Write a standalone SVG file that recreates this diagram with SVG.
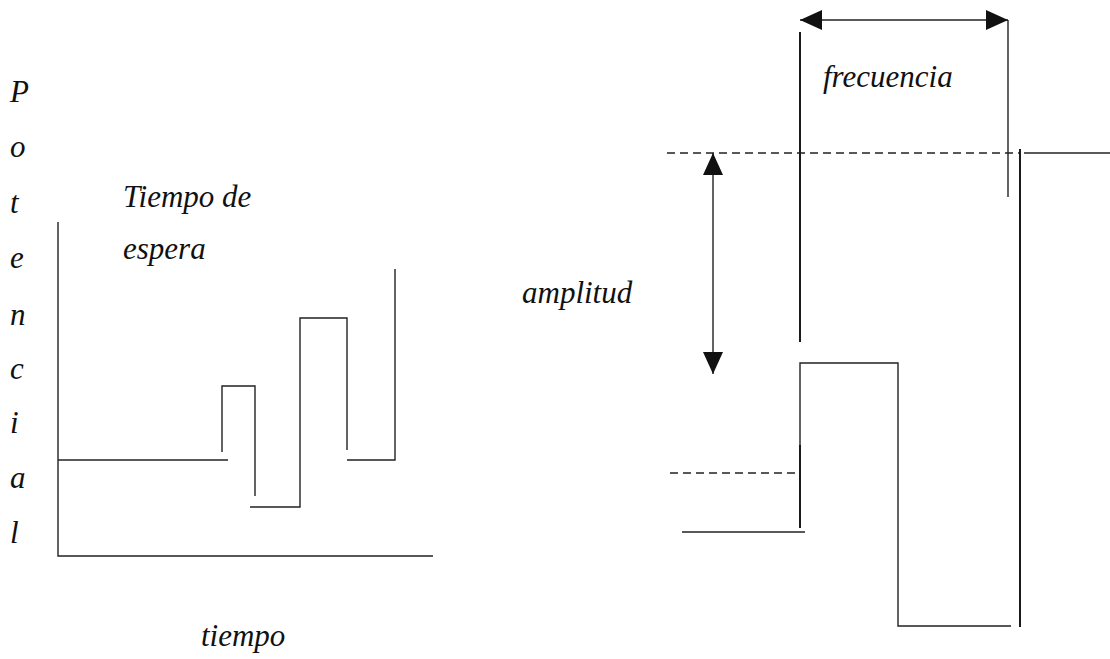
<svg xmlns="http://www.w3.org/2000/svg" width="1110" height="659" viewBox="0 0 1110 659">
<style>
.t{font-family:"Liberation Serif","Times New Roman",serif;font-style:italic;font-size:31px;fill:#111}
.ln{stroke:#222;stroke-width:1.4;fill:none}
.thk{stroke:#1a1a1a;stroke-width:2;fill:none}
.dash{stroke:#222;stroke-width:1.3;fill:none;stroke-dasharray:8 5}
</style>
<defs>
<marker id="ah" viewBox="0 0 22 20" refX="22" refY="10" markerWidth="22" markerHeight="20" markerUnits="userSpaceOnUse" orient="auto-start-reverse">
<path d="M0,0 L22,10 L0,20 Z" fill="#111"/>
</marker>
</defs>
<rect width="1110" height="659" fill="#fff"/>
<g id="axis-label-potencial" class="t">
<text x="10" y="102">P</text>
<text x="10" y="157">o</text>
<text x="10" y="213">t</text>
<text x="10" y="268">e</text>
<text x="10" y="325">n</text>
<text x="10" y="379">c</text>
<text x="10" y="433">i</text>
<text x="10" y="488">a</text>
<text x="10" y="543">l</text>
</g>
<g id="label-tiempo-espera" class="t">
<text x="123" y="207">Tiempo de</text>
<text x="123" y="259">espera</text>
</g>
<g id="label-tiempo" class="t"><text x="201" y="646">tiempo</text></g>
<g id="right-labels" class="t">
<text id="label-frecuencia" x="823" y="87">frecuencia</text>
<text id="label-amplitud" x="522" y="303">amplitud</text>
</g>
<g id="left-chart">
<path class="ln" d="M58,222 V556 H433"/>
<path class="ln" d="M58,460 H228"/>
<path class="ln" d="M222,452 V386 H255 V496"/>
<path class="ln" d="M250,507 H300 V318 H347 V450"/>
<path class="ln" d="M347,460 H395 V269"/>
</g>
<g id="right-chart">
<path class="dash" d="M667,153 H1020"/>
<path class="ln" d="M1024,153 H1110" stroke="#888"/>
<path class="thk" d="M800,32 V342"/>
<path class="ln" d="M1008,20 V197"/>
<path class="thk" d="M1020,149 V627"/>
<path class="ln" d="M800,528 V363 H898 V626 H1011"/>
<path class="thk" d="M800,445 V528"/>
<path class="dash" d="M670,473 H800"/>
<path class="ln" d="M682,532 H805"/>
</g>
<g id="connectors">
<line class="ln" x1="800" y1="20" x2="1008" y2="20" marker-start="url(#ah)" marker-end="url(#ah)"/>
<line class="ln" x1="713" y1="153" x2="713" y2="374" marker-start="url(#ah)" marker-end="url(#ah)"/>
</g>
</svg>
